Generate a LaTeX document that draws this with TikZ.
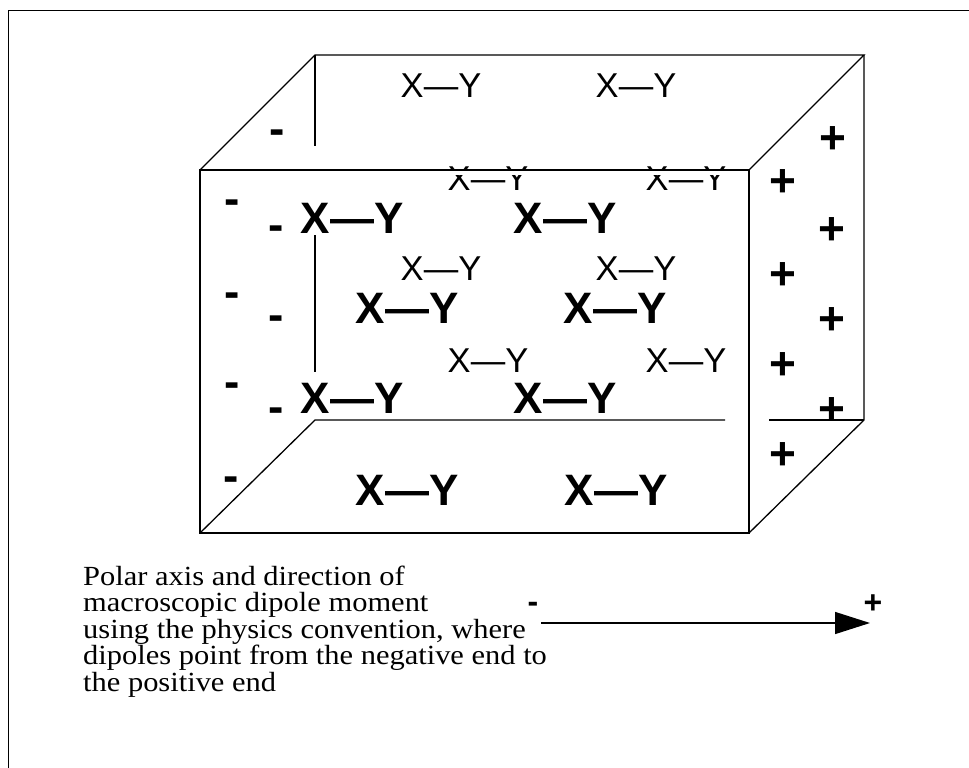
\documentclass[tikz,border=0pt]{standalone}
\usepackage{fontspec}
\setmainfont{Liberation Serif}
\newfontfamily\hel{Liberation Sans}
\newfontfamily\tms[FakeStretch=1.1]{Liberation Serif}
\usetikzlibrary{arrows.meta}
\begin{document}
\begin{tikzpicture}[x=1pt,y=-1pt,
 edge/.style={line width=1.3pt},
 xysmall/.style={font=\hel\fontsize{34.5}{34.5}\selectfont, inner sep=0, anchor=base},
 xybold/.style={font=\hel\bfseries\fontsize{44}{44}\selectfont, inner sep=0, anchor=base},
 sgn/.style={font=\hel\bfseries\fontsize{46}{46}\selectfont, inner sep=0, anchor=base},
 sgnsmall/.style={font=\hel\bfseries\fontsize{32}{32}\selectfont, inner sep=0, anchor=base},
 caption/.style={font=\tms\fontsize{27.7}{27.7}\selectfont, inner sep=0, anchor=base west}]
\useasboundingbox (0,0) rectangle (969,768);
\fill[white] (0,0) rectangle (969,768);
% frame
\coordinate (frBL) at (8.5,768);
\coordinate (frTL) at (8.5,10.5);
\coordinate (frTR) at (969,10.5);
\draw[line width=1.5pt] (frBL) -- (frTL) -- (frTR);

% box corners
\coordinate (FTL) at (200,170);
\coordinate (FTR) at (749,170);
\coordinate (FBL) at (200,533);
\coordinate (FBR) at (749,533);
\coordinate (BTL) at (315,55);
\coordinate (BTR) at (864,55);
\coordinate (BBL) at (315,420);
\coordinate (BBR) at (864,420);
\coordinate (bl1) at (315,146);
\coordinate (bl2) at (315,235);
\coordinate (bl3) at (315,372);
\coordinate (bb1) at (725,420);
\coordinate (bb2) at (769,420);

% molecules
\node[xysmall] (s1a) at (441,97) {X—Y};
\node[xysmall] (s1b) at (636,97) {X—Y};
\node[xysmall] (s2a) at (488,190) {X—Y};
\node[xysmall] (s2b) at (686,190) {X—Y};
\node[xybold] (b3a) at (352,233) {X—Y};
\node[xybold] (b3b) at (565,233) {X—Y};
\node[xysmall] (s4a) at (441,280) {X—Y};
\node[xysmall] (s4b) at (636,280) {X—Y};
\node[xybold] (b5a) at (407,323) {X—Y};
\node[xybold] (b5b) at (615,323) {X—Y};
\node[xysmall] (s6a) at (488,372) {X—Y};
\node[xysmall] (s6b) at (686,372) {X—Y};
\node[xybold] (b7a) at (352,413) {X—Y};
\node[xybold] (b7b) at (565,413) {X—Y};
\node[xybold] (b8a) at (407,505) {X—Y};
\node[xybold] (b8b) at (616,505) {X—Y};

% white band hiding part of row 2
\fill[white] (440,170.6) rectangle (735,175.3);

% negative signs
\node[sgn] (m0) at (277,144.2) {-};
\node[sgn] (m1) at (232,214.2) {-};
\node[sgn] (m2) at (232,307.2) {-};
\node[sgn] (m3) at (232,397.2) {-};
\node[sgn] (m4) at (231,491.2) {-};
\node[sgn] (n1) at (276,240.2) {-};
\node[sgn] (n2) at (276,330.2) {-};
\node[sgn] (n3) at (276,422.2) {-};

% positive signs
\node[sgn] (p0) at (833,153.2) {+};
\node[sgn] (p1) at (783,196.2) {+};
\node[sgn] (p2) at (783,289.2) {+};
\node[sgn] (p3) at (783,379.2) {+};
\node[sgn] (p4) at (783,469.2) {+};
\node[sgn] (q1) at (832,244.2) {+};
\node[sgn] (q2) at (832,334.2) {+};
\node[sgn] (q3) at (832,424.2) {+};

% box edges
\draw[edge] (FTL) rectangle (FBR);
\draw[edge] (FTL) -- (BTL) -- (BTR) -- (FTR);
\draw[edge] (BTR) -- (BBR) -- (FBR);
\draw[edge] (FBL) -- (BBL) -- (bb1);
\draw[edge] (bb2) -- (BBR);
\draw[edge] (BTL) -- (bl1);
\draw[edge] (bl2) -- (bl3);

% caption
\node[caption] (c1) at (83,585) {Polar axis and direction of};
\node[caption] (c2) at (83,611.5) {macroscopic dipole moment};
\node[caption] (c3) at (83,638) {using the physics convention, where};
\node[caption] (c4) at (83,664.5) {dipoles point from the negative end to};
\node[caption] (c5) at (83,691) {the positive end};

% polar axis arrow
\coordinate (a1) at (541,623);
\coordinate (a2) at (870,623);
\draw[line width=1.4pt, -{Triangle[length=35pt,width=22pt]}] (a1) -- (a2);
\node[sgnsmall] (am) at (533,612.5) {-};
\node[sgnsmall] (ap) at (873,613.3) {+};
\end{tikzpicture}
\end{document}
